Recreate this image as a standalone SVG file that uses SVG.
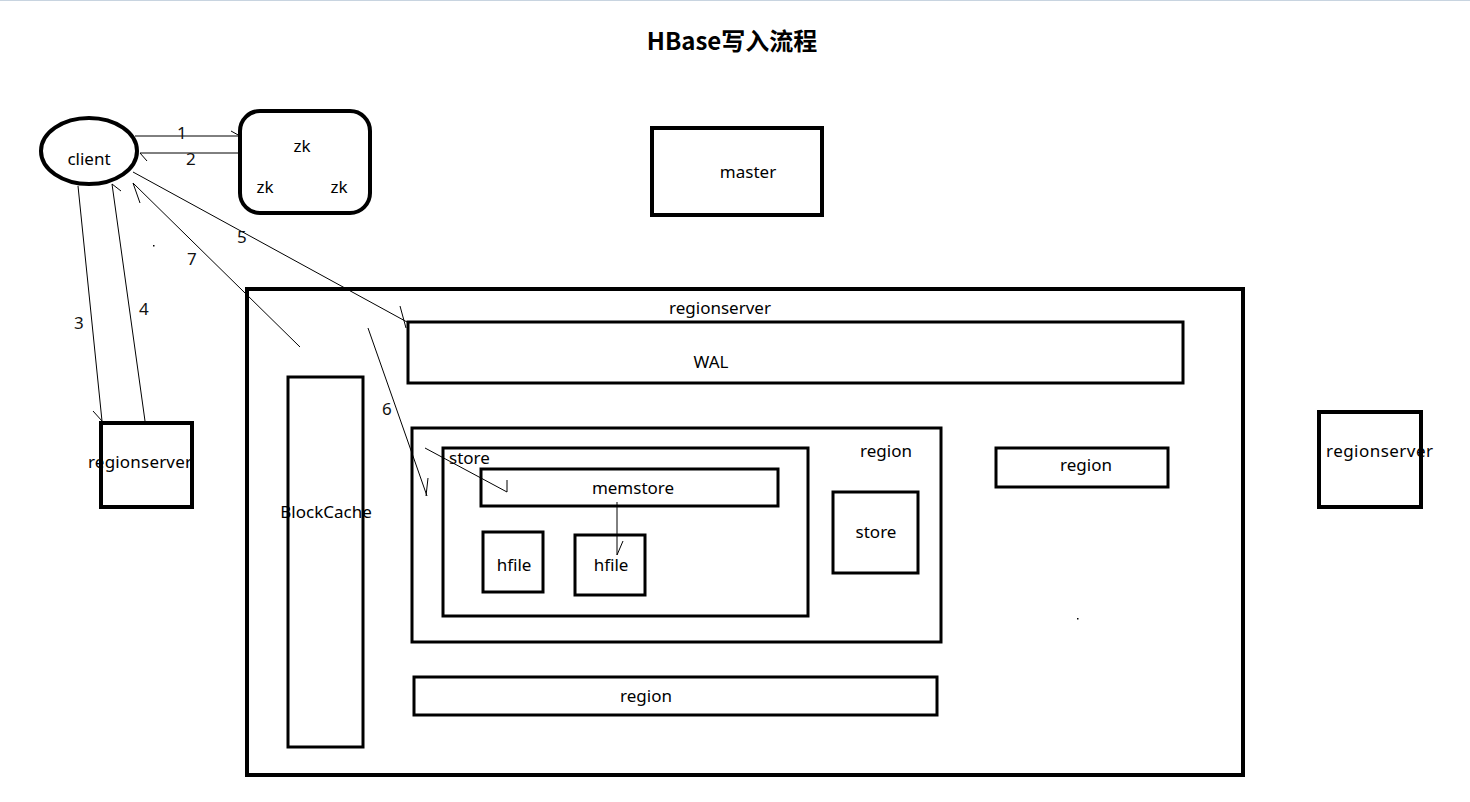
<svg xmlns="http://www.w3.org/2000/svg" width="1470" height="802" viewBox="0 0 1470 802">
<style>
.b{fill:#fff;stroke:#000}
.t{font-family:"Microsoft YaHei","Noto Sans","DejaVu Sans",sans-serif;font-size:17px;fill:#000}
.n{font-family:"Noto Sans","DejaVu Sans",sans-serif;font-size:17px;fill:#111}
.l{stroke:#000;stroke-width:1;fill:none}
</style>
<rect width="1470" height="802" fill="#fff"/>
<line x1="0" y1="0.5" x2="1470" y2="0.5" stroke="#c8d4e0"/>
<text x="732" y="50" text-anchor="middle" style="font-family:'Noto Sans CJK SC','Noto Sans',sans-serif;font-size:24px;font-weight:bold">HBase写入流程</text>
<g id="client"><ellipse cx="89" cy="151" rx="48" ry="33" class="b" stroke-width="4"/><text x="89" y="165" text-anchor="middle" class="t">client</text></g>
<g id="zk"><rect x="240" y="111" width="130" height="102" rx="20" class="b" stroke-width="4"/><text x="302" y="152" text-anchor="middle" class="t">zk</text><text x="265" y="193" text-anchor="middle" class="t">zk</text><text x="339" y="193" text-anchor="middle" class="t">zk</text></g>
<g id="master"><rect x="652" y="128" width="170" height="87" class="b" stroke-width="4"/><text x="748" y="178" text-anchor="middle" class="t">master</text></g>
<g id="regionserver-left"><rect x="101" y="423" width="91" height="84" class="b" stroke-width="4"/><text x="88" y="468" class="t" textLength="104">regionserver</text></g>
<g id="regionserver-right"><rect x="1319" y="412" width="102" height="95" class="b" stroke-width="4"/><text x="1326" y="457" class="t" textLength="107">regionserver</text></g>
<g id="regionserver-main"><rect x="247" y="289" width="996" height="486" class="b" stroke-width="4"/><text x="720" y="314" text-anchor="middle" class="t">regionserver</text></g>
<g id="wal"><rect x="408" y="322" width="775" height="61" class="b" stroke-width="3"/><text x="711" y="368" text-anchor="middle" class="t">WAL</text></g>
<g id="blockcache"><rect x="288" y="377" width="75" height="370" class="b" stroke-width="3"/><text x="326" y="518" text-anchor="middle" class="t">BlockCache</text></g>
<g id="region1"><rect x="412" y="428" width="529" height="214" class="b" stroke-width="3"/><text x="886" y="457" text-anchor="middle" class="t">region</text></g>
<g id="store1"><rect x="443" y="448" width="365" height="168" class="b" stroke-width="3"/><text x="449" y="464" class="t">store</text></g>
<g id="memstore"><rect x="481" y="469" width="297" height="37" class="b" stroke-width="3"/><text x="633" y="494" text-anchor="middle" class="t">memstore</text></g>
<g id="hfile1"><rect x="483" y="532" width="60" height="60" class="b" stroke-width="3"/><text x="514" y="571" text-anchor="middle" class="t">hfile</text></g>
<g id="hfile2"><rect x="575" y="535" width="70" height="60" class="b" stroke-width="3"/><text x="611" y="571" text-anchor="middle" class="t">hfile</text></g>
<g id="store2"><rect x="833" y="492" width="85" height="81" class="b" stroke-width="3"/><text x="876" y="538" text-anchor="middle" class="t">store</text></g>
<g id="region2"><rect x="996" y="448" width="172" height="39" class="b" stroke-width="3"/><text x="1086" y="471" text-anchor="middle" class="t">region</text></g>
<g id="region3"><rect x="414" y="677" width="523" height="38" class="b" stroke-width="3"/><text x="646" y="702" text-anchor="middle" class="t">region</text></g>
<g id="connectors">
<path class="l" d="M135,136H240M231,131L240,136"/>
<path class="l" d="M140,153H240M140,153L147,161"/>
<path class="l" d="M78,186L102,421M93,411L102,421"/>
<path class="l" d="M145,421L112,184M112,184L121,191"/>
<path class="l" d="M133,172L407,322M400,306L406,328"/>
<path class="l" d="M300,347L133,183M133,183L140,203"/>
<path class="l" d="M368,328L427,496M428,478L426,496"/>
<path class="l" d="M425,448L507,492M507,480L507,492"/>
<path class="l" d="M617,502V555M617,555L623,541"/>
<text x="177" y="139" class="n">1</text>
<text x="186" y="165" class="n">2</text>
<text x="74" y="329" class="n">3</text>
<text x="139" y="315" class="n">4</text>
<text x="237" y="243" class="n">5</text>
<text x="382" y="415" class="n">6</text>
<text x="187" y="265" class="n">7</text>
</g>
<rect x="153" y="245" width="1.5" height="1.5" fill="#000"/>
<rect x="1077" y="618" width="1.5" height="1.5" fill="#000"/>
</svg>
